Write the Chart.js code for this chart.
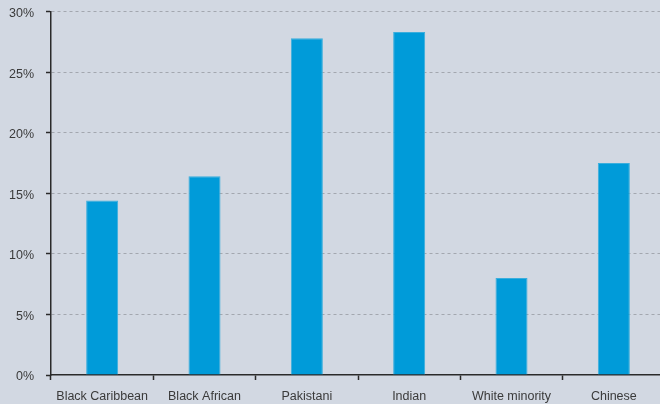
<!DOCTYPE html>
<html>
<head>
<meta charset="utf-8">
<script src="https://cdn.jsdelivr.net/npm/chart.js@4/dist/chart.umd.min.js"></script>
<style>
    html, body { margin: 0; padding: 0; background: #d2d8e2; overflow: hidden; }
    #wrap { position: relative; width: 665px; height: 412px; margin-top: -8px; }
</style>
</head>
<body>
<div id="wrap"><canvas id="ethnicityChart"></canvas></div>
<script>
// Data
const categories = ['Black Caribbean', 'Black African', 'Pakistani', 'Indian', 'White minority', 'Chinese'];
const shares = [14.4, 16.4, 27.8, 28.3, 8.0, 17.5];
const yTicks = [0, 5, 10, 15, 20, 25, 30];

const axisColor = '#2a2a2a';
const labelColor = '#3a3a3a';

const ctx = document.getElementById('ethnicityChart').getContext('2d');

new Chart(ctx, {
    type: 'bar',
    data: {
        labels: categories,
        datasets: [{
            data: shares,
            backgroundColor: '#009bd9',
            borderColor: '#3aaedd',
            borderWidth: 1,
            barPercentage: 0.313,
            categoryPercentage: 1
        }]
    },
    options: {
        responsive: true,
        maintainAspectRatio: false,
        animation: false,
        layout: { padding: { top: 3, right: 0, bottom: 0, left: 0 } },
        plugins: {
            legend: { display: false },
            tooltip: { enabled: false }
        },
        scales: {
            y: {
                min: 0,
                max: 30,
                afterBuildTicks: scale => {
                    scale.ticks = yTicks.map(v => ({ value: v }));
                },
                afterFit: scale => { scale.width = 51; },
                // border.dash in v4 dashes the grid lines, the axis line stays solid
                border: { color: axisColor, width: 1.5, dash: [3, 3] },
                grid: {
                    color: ctx => ctx.tick && ctx.tick.value === 0 ? 'rgba(0,0,0,0)' : '#a3a7af',
                    lineWidth: 1,
                    drawTicks: true,
                    tickLength: 5,
                    tickColor: axisColor,
                    tickWidth: 1.5,
                    tickBorderDash: []
                },
                ticks: {
                    padding: 12,
                    labelOffset: 2,
                    color: labelColor,
                    font: { family: 'Liberation Sans, Arial, sans-serif', size: 12.5 },
                    callback: v => v + '%'
                }
            },
            x: {
                afterFit: scale => { scale.height = 29; },
                border: { color: axisColor, width: 1.5 },
                grid: {
                    offset: true,
                    drawOnChartArea: false,
                    drawTicks: true,
                    tickLength: 5,
                    tickColor: axisColor,
                    tickWidth: 1.5
                },
                ticks: {
                    padding: 9,
                    maxRotation: 0,
                    autoSkip: false,
                    color: labelColor,
                    font: { family: 'Liberation Sans, Arial, sans-serif', size: 12.5 }
                }
            }
        }
    }
});
</script>
</body>
</html>
